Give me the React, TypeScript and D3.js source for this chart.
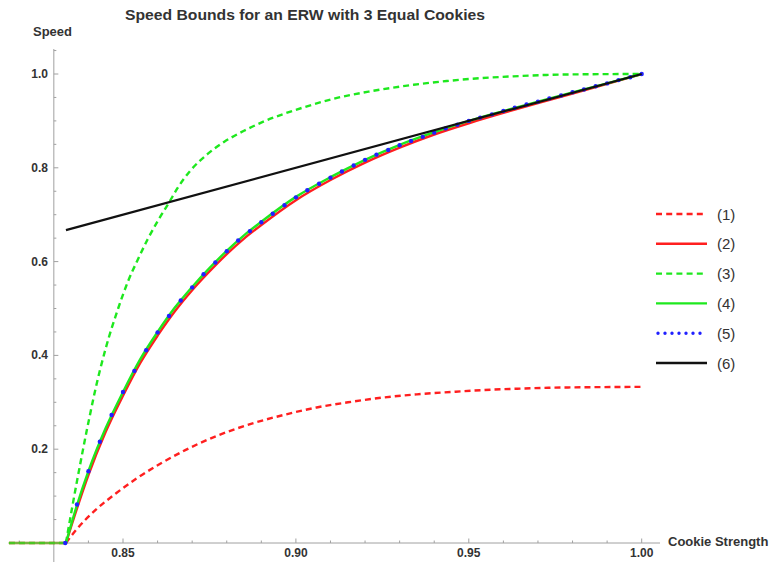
import React from "react";
import * as d3 from "d3";

const W = 774;
const H = 562;
const FONT = "'Liberation Sans', Arial, sans-serif";

// (1) lower bound, red dashed
const lowerP = [0.8335, 0.836, 0.842, 0.848, 0.854, 0.861, 0.868, 0.877, 0.887, 0.897, 0.906, 0.916, 0.925, 0.935, 0.945, 0.954, 0.964, 0.973, 0.983, 1.0];
const lowerV = [0, 0.024, 0.07, 0.106, 0.138, 0.17, 0.198, 0.228, 0.254, 0.274, 0.289, 0.301, 0.31, 0.317, 0.322, 0.326, 0.329, 0.331, 0.332, 0.333];

// (2) red solid and (4) green solid share one grid of p
const midP = [0.8335, 0.8367, 0.84, 0.845, 0.85, 0.855, 0.86, 0.865, 0.87, 0.875, 0.88, 0.885, 0.89, 0.9, 0.91, 0.92, 0.93, 0.94, 0.95, 0.96, 0.97, 0.98, 0.99, 1.0];
const redV = [0, 0.074, 0.145, 0.237, 0.314, 0.384, 0.442, 0.494, 0.539, 0.579, 0.616, 0.649, 0.678, 0.731, 0.774, 0.811, 0.843, 0.871, 0.895, 0.917, 0.938, 0.958, 0.979, 1.0];
const greenV = [0, 0.081, 0.153, 0.245, 0.322, 0.392, 0.45, 0.502, 0.546, 0.586, 0.623, 0.656, 0.685, 0.738, 0.78, 0.817, 0.849, 0.876, 0.9, 0.921, 0.941, 0.961, 0.98, 1.0];

// (3) upper bound, green dashed
const upperP = [0.8335, 0.8355, 0.8369, 0.8384, 0.8396, 0.8403, 0.8417, 0.845, 0.8486, 0.8514, 0.8542, 0.8571, 0.86, 0.8634, 0.8658, 0.8696, 0.8744, 0.8792, 0.885, 0.8908, 0.8965, 0.9023, 0.9119, 0.9215, 0.934, 0.9436, 0.9532, 0.9628, 0.9725, 0.982, 1.0];
const upperV = [0, 0.084, 0.14, 0.198, 0.243, 0.268, 0.317, 0.415, 0.5, 0.557, 0.603, 0.647, 0.686, 0.727, 0.757, 0.795, 0.829, 0.855, 0.879, 0.899, 0.915, 0.929, 0.949, 0.963, 0.977, 0.985, 0.991, 0.995, 0.998, 0.9993, 1.0];

// (5) blue dots
const dotP = [0.8333, 0.8367, 0.84, 0.8433, 0.8467, 0.85, 0.8533, 0.8567, 0.86, 0.8633, 0.8667, 0.87, 0.8733, 0.8767, 0.88, 0.8833, 0.8867, 0.89, 0.8933, 0.8967, 0.9, 0.9033, 0.9067, 0.91, 0.9133, 0.9167, 0.92, 0.9233, 0.9267, 0.93, 0.9333, 0.9367, 0.94, 0.9433, 0.9467, 0.95, 0.9533, 0.9567, 0.96, 0.9633, 0.9667, 0.97, 0.9733, 0.9767, 0.98, 0.9833, 0.9867, 0.99, 0.9933, 0.9967, 1.0];
const dotV = [0, 0.082, 0.153, 0.216, 0.273, 0.322, 0.367, 0.411, 0.449, 0.484, 0.517, 0.545, 0.573, 0.598, 0.622, 0.645, 0.665, 0.684, 0.702, 0.72, 0.737, 0.752, 0.766, 0.779, 0.792, 0.805, 0.817, 0.828, 0.838, 0.848, 0.857, 0.866, 0.875, 0.884, 0.892, 0.9, 0.907, 0.914, 0.921, 0.928, 0.935, 0.941, 0.948, 0.954, 0.961, 0.967, 0.974, 0.98, 0.987, 0.993, 1.0];

// (6) black line
const lineP = [0.8335, 1.0];
const lineV = [0.667, 1.0];

const flatStart = 0.817; // curves sit on zero left of the threshold

const xMajor = [0.85, 0.9, 0.95, 1.0];
const xLabels = ["0.85", "0.90", "0.95", "1.00"];
const yMajor = [0.2, 0.4, 0.6, 0.8, 1.0];
const yLabels = ["0.2", "0.4", "0.6", "0.8", "1.0"];
const legendLabels = ["(1)", "(2)", "(3)", "(4)", "(5)", "(6)"];

const x = d3.scaleLinear().domain([0.85, 1.0]).range([123, 641.7]);
const y = d3.scaleLinear().domain([0, 1]).range([543, 74]);

const xMinor = d3.range(82, 101).map((k) => k / 100).filter((v) => Math.round(v * 100) % 5 !== 0 && v !== 0.83);
const yMinor = d3.range(1, 22).map((k) => k / 20).filter((v) => Math.round(v * 20) % 4 !== 0);

const curve = (ps: number[], vs: number[]) =>
  d3
    .line<number>()
    .x((_, i) => x(ps[i]))
    .y((v) => y(v))
    .curve(d3.curveMonotoneX)(vs) || "";

const flat = (p0: number) => `M${x(flatStart)},${y(0)}L${x(p0)},${y(0)}`;

const RED = "#ff1f1f";
const GREEN = "#1ee81e";
const BLUE = "#2020ff";
const AXIS = "#a0a0a0";
const TXT = "#333";

const series = [
  { d: curve(lowerP, lowerV), p0: lowerP[0], color: RED, dash: "6,4" },
  { d: curve(midP, redV), p0: midP[0], color: RED, dash: undefined },
  { d: curve(upperP, upperV), p0: upperP[0], color: GREEN, dash: "6,4" },
  { d: curve(midP, greenV), p0: midP[0], color: GREEN, dash: undefined },
];

const legendStyles = [
  { c: RED, dash: "6,4.2", w: 2.4 },
  { c: RED, dash: undefined, w: 2.4 },
  { c: GREEN, dash: "6,4.2", w: 2.4 },
  { c: GREEN, dash: undefined, w: 2.4 },
  { c: BLUE, dash: "0,7", w: 3.4 },
  { c: "#111", dash: undefined, w: 2.4 },
];

export default function App() {
  const legendY = (i: number) => 214 + i * 29.8;
  return (
    <svg
      width={W}
      height={H}
      style={{ position: "absolute", left: 0, top: 0, background: "#fff" }}
      fontFamily={FONT}
    >
      <text x={305} y={20} textAnchor="middle" fontWeight="bold" fontSize={15.5} fill={TXT} textLength={360} lengthAdjust="spacingAndGlyphs">
        Speed Bounds for an ERW with 3 Equal Cookies
      </text>

      {/* axes */}
      <line x1={x(0.83)} x2={x(0.83)} y1={49} y2={H} stroke={AXIS} strokeWidth={1} />
      <line x1={x(flatStart)} x2={660} y1={y(0)} y2={y(0)} stroke={AXIS} strokeWidth={1} />
      {yMajor.map((v, i) => (
        <g key={"ym" + i}>
          <line x1={x(0.83)} x2={x(0.83) + 4.5} y1={y(v)} y2={y(v)} stroke={AXIS} />
          <text x={48} y={y(v) + 4} textAnchor="end" fontWeight="bold" fontSize={12} fill={TXT}>
            {yLabels[i]}
          </text>
        </g>
      ))}
      {yMinor.map((v, i) => (
        <line key={"yn" + i} x1={x(0.83)} x2={x(0.83) + 2.5} y1={y(v)} y2={y(v)} stroke={AXIS} />
      ))}
      {xMajor.map((v, i) => (
        <g key={"xm" + i}>
          <line x1={x(v)} x2={x(v)} y1={y(0)} y2={y(0) - 4.5} stroke={AXIS} />
          <text x={x(v)} y={557} textAnchor="middle" fontWeight="bold" fontSize={12} fill={TXT}>
            {xLabels[i]}
          </text>
        </g>
      ))}
      {xMinor.map((v, i) => (
        <line key={"xn" + i} x1={x(v)} x2={x(v)} y1={y(0)} y2={y(0) - 2.5} stroke={AXIS} />
      ))}
      <text x={33} y={36} fontWeight="bold" fontSize={13} fill={TXT}>
        Speed
      </text>
      <text x={668} y={546} fontWeight="bold" fontSize={13} fill={TXT}>
        Cookie Strength
      </text>

      {/* series (1)-(4) */}
      {series.map((s, i) => (
        <g key={"s" + i} fill="none" stroke={s.color} strokeWidth={2.4} strokeDasharray={s.dash}>
          <path d={flat(s.p0)} opacity={0.55} />
          <path d={s.d} />
        </g>
      ))}

      {/* series (5) */}
      {dotP.map((p, i) => (
        <circle key={"d" + i} cx={x(p)} cy={y(dotV[i])} r={2.2} fill={BLUE} />
      ))}

      {/* series (6) */}
      <path d={curve(lineP, lineV)} fill="none" stroke="#111" strokeWidth={2.2} />

      {/* legend */}
      {legendLabels.map((lab, i) => {
        const ly = legendY(i);
        const st = legendStyles[i];
        return (
          <g key={"l" + i}>
            <line
              x1={i === 4 ? 658 : 656}
              x2={707}
              y1={ly}
              y2={ly}
              stroke={st.c}
              strokeWidth={st.w}
              strokeDasharray={st.dash}
              strokeLinecap={i === 4 ? "round" : "butt"}
            />
            <text x={717} y={ly + 5.5} fontSize={15} fill={TXT}>
              {lab}
            </text>
          </g>
        );
      })}
    </svg>
  );
}
